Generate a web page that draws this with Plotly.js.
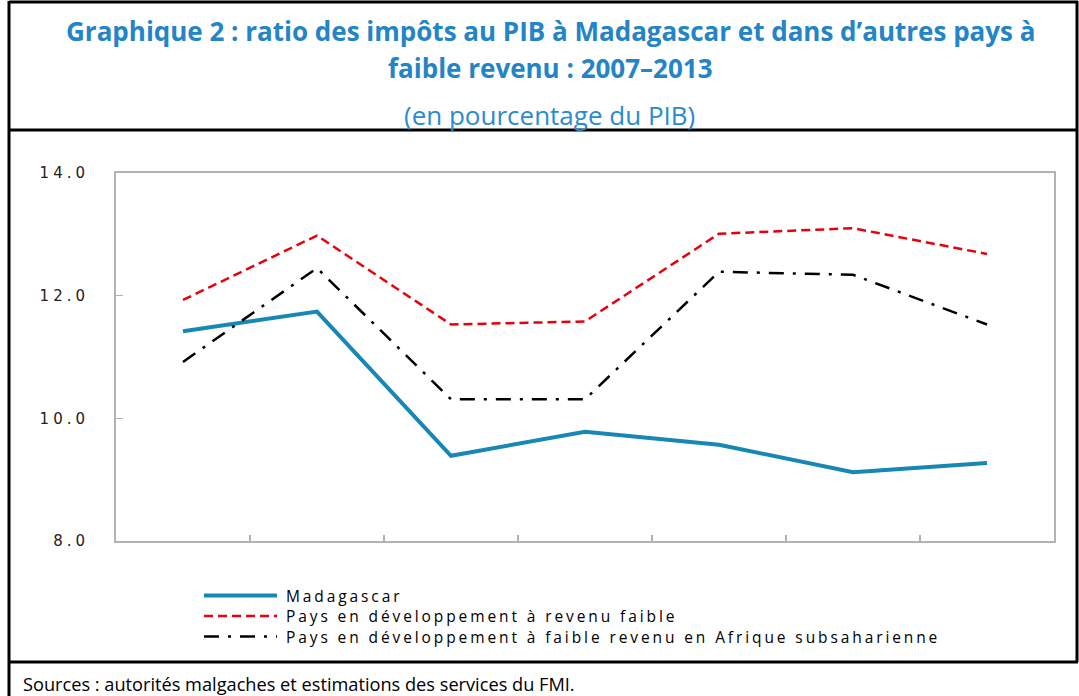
<!DOCTYPE html>
<html>
<head>
<meta charset="utf-8">
<script src="https://cdn.plot.ly/plotly-3.0.1.min.js"></script>
<style>
html,body{margin:0;padding:0;background:#fff;}
#chart{width:1079px;height:696px;}
.legendtext{letter-spacing:2.9px;}
.ytick text{letter-spacing:4px;}
</style>
</head>
<body>
<div id="chart"></div>
<script>
const years = ['2007','2008','2009','2010','2011','2012','2013'];
const madagascar = [11.42, 11.74, 9.39, 9.78, 9.57, 9.12, 9.27];
const paysFaibleRevenu = [11.93, 12.98, 11.53, 11.58, 13.01, 13.10, 12.68];
const afriqueSubsaharienne = [10.92, 12.45, 10.31, 10.31, 12.39, 12.34, 11.53];
const seriesNames = ['Madagascar', 'Pays en développement à revenu faible', 'Pays en développement à faible revenu en Afrique subsaharienne'];
const yTicks = [8, 10, 12, 14];

const W = 1079, H = 696, ML = 116, MR = 25, MT = 173, MB = 155;
const PW = W - ML - MR, PH = H - MT - MB;
const px = v => (v - ML) / PW;
const py = v => (H - MB - v) / PH;

const traces = [
  {x: years, y: madagascar, name: seriesNames[0], type: 'scatter', mode: 'lines',
   line: {color: '#1787b6', width: 4}},
  {x: years, y: paysFaibleRevenu, name: seriesNames[1], type: 'scatter', mode: 'lines',
   line: {color: '#e8000b', width: 2.5, dash: '9px,5px'}},
  {x: years, y: afriqueSubsaharienne, name: seriesNames[2], type: 'scatter', mode: 'lines',
   line: {color: '#000000', width: 2.5, dash: '15px,9px,3px,9px'}}
];

const blk = {color: '#000', width: 3};
const layout = {
  width: W, height: H,
  margin: {l: ML, r: MR, t: MT, b: MB},
  paper_bgcolor: '#fff', plot_bgcolor: '#fff',
  showlegend: true,
  legend: {x: px(246), y: py(579), xanchor: 'left', yanchor: 'top',
    font: {family: 'Open Sans', size: 15.5, color: '#000'}, tracegroupgap: 0,
    bgcolor: 'rgba(0,0,0,0)'},
  xaxis: {type: 'category', range: [-0.5, 6.5], showticklabels: false, ticks: 'inside', tickson: 'boundaries',
    ticklen: 6, tickwidth: 1.5, tickcolor: '#b0b0b0', showgrid: false, zeroline: false,
    showline: true, linecolor: '#b3b3b3', linewidth: 2, mirror: true, fixedrange: true},
  yaxis: {range: [8, 14], tickvals: yTicks, ticktext: yTicks.map(v => v.toFixed(1)),
    ticks: 'inside', ticklen: 7, tickwidth: 1.5, tickcolor: '#b0b0b0', showgrid: false,
    zeroline: false, showline: true, linecolor: '#b3b3b3', linewidth: 2, mirror: true,
    tickfont: {family: 'DejaVu Sans', size: 15, color: '#222'}, ticklabelstandoff: 22},
  shapes: [
    {type: 'line', xref: 'paper', yref: 'paper', x0: px(9), x1: px(9), y0: py(1), y1: py(696), line: blk},
    {type: 'line', xref: 'paper', yref: 'paper', x0: px(9), x1: px(1078), y0: py(2), y1: py(2), line: blk},
    {type: 'line', xref: 'paper', yref: 'paper', x0: px(1077), x1: px(1077), y0: py(1), y1: py(662), line: blk},
    {type: 'line', xref: 'paper', yref: 'paper', x0: px(9), x1: px(1078), y0: py(130), y1: py(130), line: blk},
    {type: 'line', xref: 'paper', yref: 'paper', x0: px(9), x1: px(1078), y0: py(662), y1: py(662), line: blk}
  ],
  annotations: [
    {xref: 'paper', yref: 'paper', x: px(550), y: py(31), xanchor: 'center', yanchor: 'middle', showarrow: false,
     text: '<b>Graphique 2 : ratio des impôts au PIB à Madagascar et dans d’autres pays à</b>',
     font: {family: 'Open Sans', size: 26, color: '#2384c6'}},
    {xref: 'paper', yref: 'paper', x: px(550), y: py(68), xanchor: 'center', yanchor: 'middle', showarrow: false,
     text: '<b>faible revenu : 2007–2013</b>',
     font: {family: 'Open Sans', size: 26, color: '#2384c6'}},
    {xref: 'paper', yref: 'paper', x: px(549), y: py(115), xanchor: 'center', yanchor: 'middle', showarrow: false,
     text: '(en pourcentage du PIB)',
     font: {family: 'Open Sans', size: 26, color: '#2a8ccc'}},
    {xref: 'paper', yref: 'paper', x: px(21), y: py(684), xanchor: 'left', yanchor: 'middle', showarrow: false,
     text: 'Sources : autorités malgaches et estimations des services du FMI.',
     font: {family: 'Open Sans', size: 18.2, color: '#000'}}
  ]
};

Plotly.newPlot('chart', traces, layout, {displayModeBar: false, staticPlot: true}).then(gd => {
  gd.querySelectorAll('.legend .scrollbox').forEach(s => s.removeAttribute('clip-path'));
  gd.querySelectorAll('.legend .legendlines path').forEach(p => p.setAttribute('d', 'M-42,0h73'));
  const items = gd.querySelectorAll('.legend .traces');
  let x0 = 0, y0 = 0;
  items.forEach((g, i) => {
    const m = /translate\(([-\d.e]+)[ ,]+([-\d.e]+)\)/.exec(g.getAttribute('transform') || '');
    if (i === 0 && m) { x0 = parseFloat(m[1]); y0 = parseFloat(m[2]); }
    g.setAttribute('transform', 'translate(' + x0 + ',' + (y0 + i * 20.5) + ')');
  });
});
</script>
</body>
</html>
